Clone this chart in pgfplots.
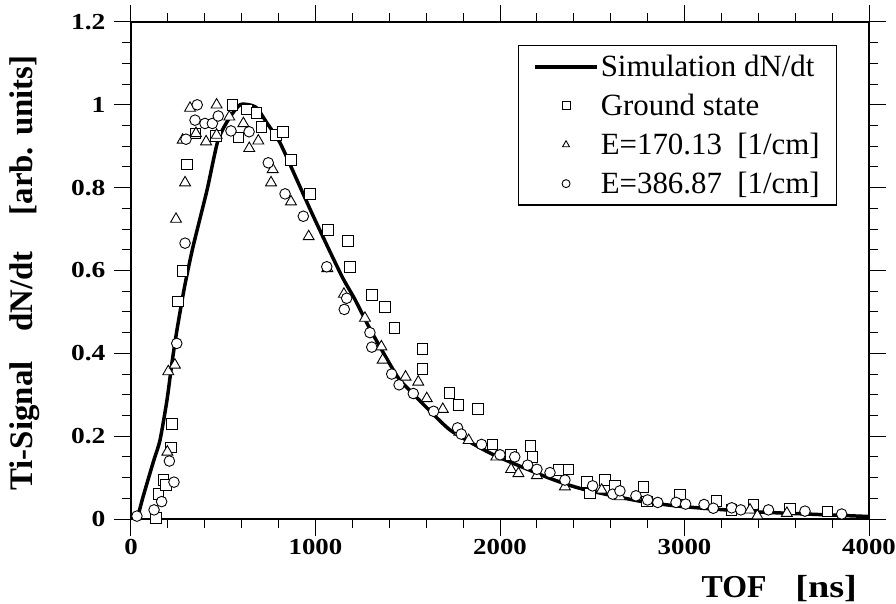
\documentclass[border=0pt]{standalone}
\usepackage{fontspec}
\setmainfont{Liberation Serif}
\usepackage{graphicx}
\usepackage{pgfplots}
\pgfplotsset{compat=1.18}
\usetikzlibrary{calc}

\pgfplotstableread{
x y
25 0.0
45 0.02
65 0.053
119 0.135
157 0.19
195 0.287
222 0.377
249 0.456
290 0.56
336 0.657
412 0.794
472 0.915
537 0.971
591 1.0
640 1.0
683 0.992
737 0.956
808 0.908
900 0.818
986 0.733
1079 0.645
1150 0.58
1214 0.53
1300 0.455
1442 0.345
1512 0.31
1600 0.27
1729 0.215
1892 0.172
2000 0.148
2271 0.098
2450 0.072
2759 0.043
2992 0.030
3355 0.018
3718 0.011
4000 0.006
}\simdata

\pgfplotstableread{
x y
136 0.002
148 0.060
175 0.094
190 0.082
217 0.173
221 0.229
256 0.525
278 0.599
302 0.856
350 0.931
461 0.925
549 1.000
582 0.921
627 0.989
680 0.980
708 0.947
786 0.927
824 0.935
867 0.867
970 0.785
1068 0.698
1175 0.671
1187 0.609
1306 0.541
1377 0.512
1427 0.462
1579 0.410
1579 0.363
1725 0.305
1775 0.275
1880 0.265
1960 0.180
2060 0.155
2164 0.176
2175 0.150
2316 0.118
2370 0.120
2470 0.090
2488 0.062
2569 0.094
2623 0.081
2777 0.078
2795 0.042
2976 0.059
3174 0.043
3255 0.022
3373 0.035
3572 0.024
3774 0.018
}\grounddata

\pgfplotstableread{
x y
197 0.162
202 0.356
238 0.372
244 0.724
280 0.915
293 0.812
320 0.992
352 0.931
407 0.911
464 1.000
464 0.927
533 0.971
609 0.955
641 0.895
690 0.913
759 0.812
768 0.844
867 0.766
963 0.682
1064 0.605
1154 0.543
1268 0.485
1357 0.416
1364 0.384
1488 0.343
1557 0.331
1603 0.291
1690 0.265
1780 0.210
1830 0.190
1980 0.150
2060 0.120
2100 0.110
2200 0.105
2352 0.078
2551 0.070
2650 0.054
3355 0.022
3395 0.008
3555 0.014
}\tridata

\pgfplotstableread{
x y
32 0.007
125 0.022
166 0.042
208 0.140
233 0.089
248 0.424
293 0.666
298 0.917
347 0.963
359 1.000
401 0.955
441 0.955
473 0.973
542 0.937
640 0.935
744 0.860
835 0.785
934 0.731
1061 0.609
1156 0.506
1169 0.533
1295 0.450
1305 0.415
1413 0.350
1453 0.324
1530 0.303
1640 0.260
1770 0.220
1790 0.205
1900 0.180
2000 0.155
2080 0.150
2150 0.130
2200 0.120
2271 0.112
2352 0.094
2502 0.080
2611 0.060
2650 0.068
2737 0.056
2800 0.046
2855 0.040
2954 0.040
3006 0.036
3106 0.035
3156 0.026
3256 0.027
3305 0.022
3455 0.022
3653 0.019
3852 0.012
}\circdata

\begin{document}
\begin{tikzpicture}
\begin{axis}[
  scale only axis,
  width=738bp, height=497bp,
  xmin=0, xmax=4000, ymin=0, ymax=1.2,
  axis line style={line width=1.2pt},
  xtick={0,1000,2000,3000,4000},
  ytick={0,0.2,0.4,0.6,0.8,1,1.2},
  minor x tick num=4, minor y tick num=3,
  tick align=outside,
  major tick length=17bp, minor tick length=9bp,
  tick style={line width=1pt, black},
  /pgf/number format/assume math mode=true,
  /pgf/number format/1000 sep={},
  tick label style={font=\fontsize{23}{23}\selectfont\bfseries},
  xticklabel={\scalebox{1.17}[1]{\pgfmathprintnumber{\tick}}},
  yticklabel={\scalebox{1.2}[1]{\pgfmathprintnumber{\tick}}},
  yticklabel style={xshift=-5bp},
  xlabel={TOF\hspace{0.9em}\scalebox{1.2}[1]{[ns]}},
  ylabel={Ti-Signal\hspace{0.9em}dN/dt\hspace{1.1em}[arb. units]},
  x label style={at={(axis description cs:0.984,-0.157)}, anchor=base east, inner sep=0pt, font=\fontsize{32}{32}\selectfont\bfseries},
  y label style={at={(axis description cs:-0.1328,0.495)}, anchor=base, inner sep=0pt, font=\fontsize{33}{33}\selectfont\bfseries},
  legend style={at={(axis description cs:0.524,0.954)}, anchor=north west, draw=black, line width=1.2pt,
    font=\fontsize{31}{37}\selectfont, inner xsep=15bp, inner ysep=8bp, row sep=12bp},
  legend cell align=left,
  legend image code/.code={\draw[mark repeat=2,mark phase=2,#1,mark size=4bp] plot coordinates {(0bp,0bp) (31bp,0bp) (62bp,0bp)};},
]
\addplot[black, line width=3.5pt, smooth, tension=0.4, no markers] table {\simdata};
\addlegendentry{Simulation dN/dt}
\addplot[only marks, mark=square*, mark size=5.3bp, mark options={draw=black, fill=white, line width=0.9pt}] table {\grounddata};
\addlegendentry{Ground state}
\addplot[only marks, mark=triangle*, mark size=6.3bp, mark options={draw=black, fill=white, line width=0.9pt}] table {\tridata};
\addlegendentry{E=170.13\ \ [1/cm]}
\addplot[only marks, mark=*, mark size=5.3bp, mark options={draw=black, fill=white, line width=0.9pt}] table {\circdata};
\addlegendentry{E=386.87\ \ [1/cm]}
\end{axis}
\pgfresetboundingbox
\path ($(current axis.south west)+(-131bp,-85bp)$) rectangle ($(current axis.north east)+(27bp,22bp)$);
\end{tikzpicture}
\end{document}
